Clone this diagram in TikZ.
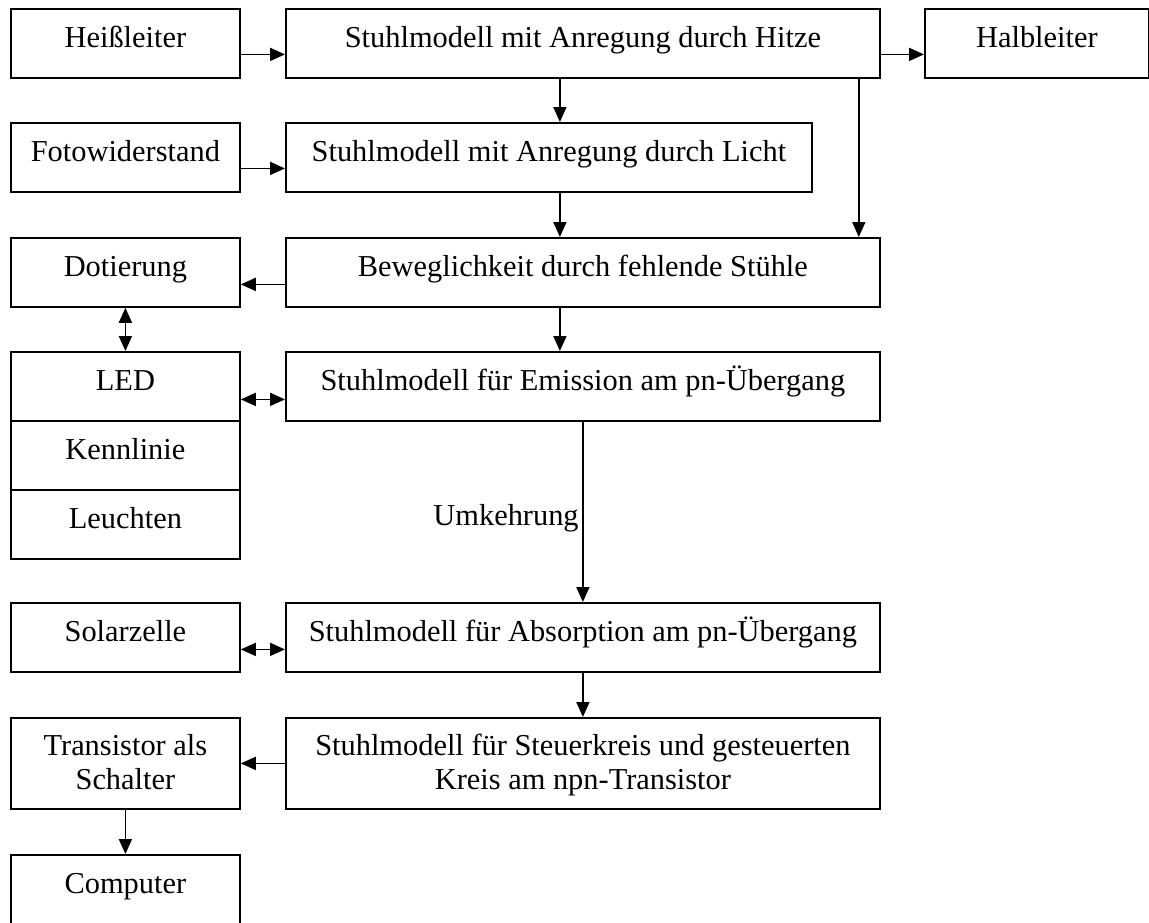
\documentclass[tikz,border=0pt]{standalone}
\usepackage{fontspec}
\setmainfont{Liberation Serif}
\usepackage{tikz}
\usetikzlibrary{arrows.meta}

\begin{document}
\begin{tikzpicture}[
        x=1pt, y=-1pt,
        every node/.style={font=\fontsize{30.4}{34}\selectfont},
        block/.style={rectangle, draw=black, line width=1.8pt, anchor=north west, inner xsep=0pt, inner ysep=0pt, text height=39pt, text depth=30pt, minimum width=229pt},
        wideblock/.style={block, minimum width=594pt},
        twoline/.style={align=center, text height=72pt, text depth=19pt},
        flow/.style={-{Triangle[length=15pt, width=13pt]}, line width=1.8pt},
        dualflow/.style={{Triangle[length=15pt, width=13pt]}-{Triangle[length=15pt, width=13pt]}, line width=1.8pt}
    ]
    \useasboundingbox (0,0) rectangle (1149,922);

    % Left column
    \node[block] (heiss) at (10,8) {Heißleiter};
    \node[block] (foto) at (10,122) {Fotowiderstand};
    \node[block] (dot) at (10,237) {Dotierung};
    \node[block] (led) at (10,351) {LED};
    \node[block] (kenn) at (10,420) {Kennlinie};
    \node[block] (leucht) at (10,489) {Leuchten};
    \node[block] (solar) at (10,602) {Solarzelle};
    \node[block, twoline] (trans) at (10,717) {Transistor als\\Schalter};
    \node[block] (comp) at (10,854) {Computer};

    % Chair models
    \node[wideblock] (hitze) at (285,8) {Stuhlmodell mit Anregung durch Hitze};
    \node[block, minimum width=526pt] (licht) at (285,122) {Stuhlmodell mit Anregung durch Licht};
    \node[wideblock] (beweg) at (285,237) {Beweglichkeit durch fehlende Stühle};
    \node[wideblock] (emis) at (285,351) {Stuhlmodell für Emission am pn-Übergang};
    \node[wideblock] (absorp) at (285,602) {Stuhlmodell für Absorption am pn-Übergang};
    \node[wideblock, twoline] (steuer) at (285,717) {Stuhlmodell für Steuerkreis und gesteuerten\\Kreis am npn-Transistor};

    \node[block, minimum width=224pt] (halb) at (924,8) {Halbleiter};

    % Flows
    \draw[flow] ([yshift=-11pt]heiss.east) -- ([yshift=-11pt]hitze.west);
    \draw[flow] ([yshift=-11pt]hitze.east) -- ([yshift=-11pt]halb.west);
    \draw[flow] ([xshift=-23pt]hitze.south) -- ([xshift=-23pt]hitze.south |- licht.north);
    \draw[flow] ([xshift=-22pt]hitze.south east) -- ([xshift=-22pt]hitze.south east |- beweg.north);
    \draw[flow] ([yshift=-11pt]foto.east) -- ([yshift=-11pt]licht.west);
    \draw[flow] ([xshift=11pt]licht.south) -- ([xshift=11pt]licht.south |- beweg.north);
    \draw[flow] ([yshift=-12pt]beweg.west) -- ([yshift=-12pt]dot.east);
    \draw[dualflow] (dot) -- (led);
    \draw[flow] ([xshift=-23pt]beweg.south) -- ([xshift=-23pt]beweg.south |- emis.north);
    \draw[dualflow] ([yshift=-13pt]led.east) -- ([yshift=-13pt]emis.west);
    \draw[flow] (emis) -- node[left, pos=0.535] (umk) {Umkehrung} (absorp);
    \draw[dualflow] ([yshift=-12pt]solar.east) -- ([yshift=-12pt]absorp.west);
    \draw[flow] (absorp) -- (steuer);
    \draw[flow] (steuer) -- (trans);
    \draw[flow] (trans) -- (comp);

\end{tikzpicture}
\end{document}
